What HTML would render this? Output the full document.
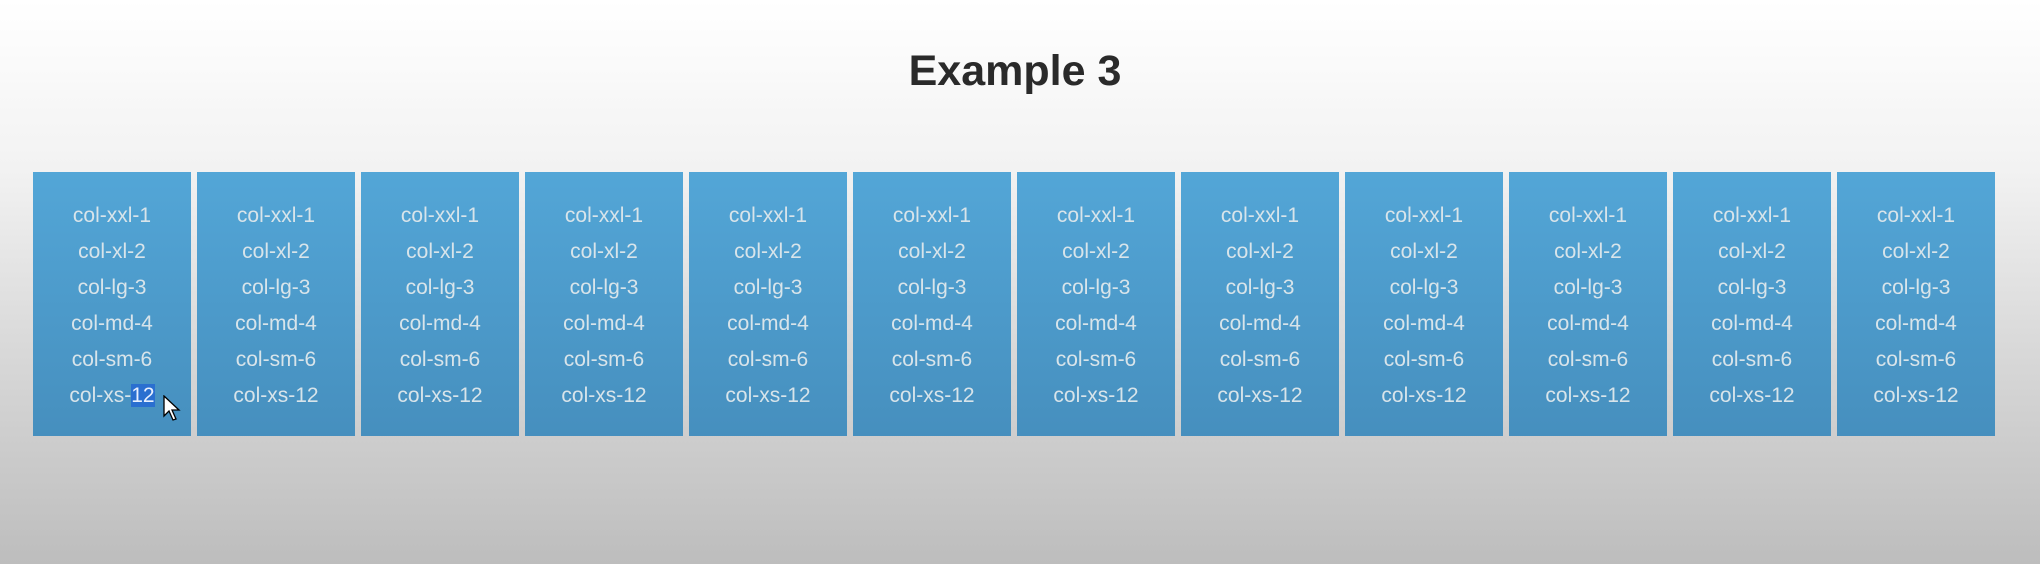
<!DOCTYPE html>
<html><head><meta charset="utf-8"><style>
html,body{margin:0;padding:0}
body{width:2040px;height:564px;overflow:hidden;position:relative;background:linear-gradient(#ffffff 0%,#f2f2f2 30%,#dadada 60%,#bdbdbd 100%);font-family:"Liberation Sans",sans-serif}
h1{position:absolute;left:0;width:2030px;top:44px;margin:0;text-align:center;font-size:43px;font-weight:bold;color:#2a2a2a;line-height:54px}
.box{position:absolute;top:172px;width:158px;height:264px;background:linear-gradient(#53a6d7,#468fbe);color:#d8e4ea;text-align:center;font-size:21px}
.box div{position:absolute;left:0;right:0;height:36px;line-height:36px}
.sel{background:#2a6fd0;color:#e8f0ff}
</style></head><body>
<h1>Example 3</h1>
<div id="row"></div>
<script>
const labels=["col-xxl-1","col-xl-2","col-lg-3","col-md-4","col-sm-6","col-xs-12"];
const count=12;
const row=document.getElementById('row');
for(let i=0;i<count;i++){
  const b=document.createElement('div');
  b.className='box';
  
  
  b.style.left=(33+i*164)+'px';
  labels.forEach((t,j)=>{
    const d=document.createElement('div');
    
    
    d.style.top=(26+j*36)+'px';
    if(i===0&&j===5){d.innerHTML='col-xs-<span class="sel">12</span>';}else d.textContent=t;
    b.appendChild(d);
  });
  row.appendChild(b);
}
</script>
<svg style="position:absolute;left:163px;top:395px" width="20" height="28" viewBox="0 0 20 28"><path d="M1 1 L1 21 L6 16 L10 25 L13 24 L9 15 L16 15 Z" fill="#fff" stroke="#000" stroke-width="1.3"/></svg>
</body></html>
